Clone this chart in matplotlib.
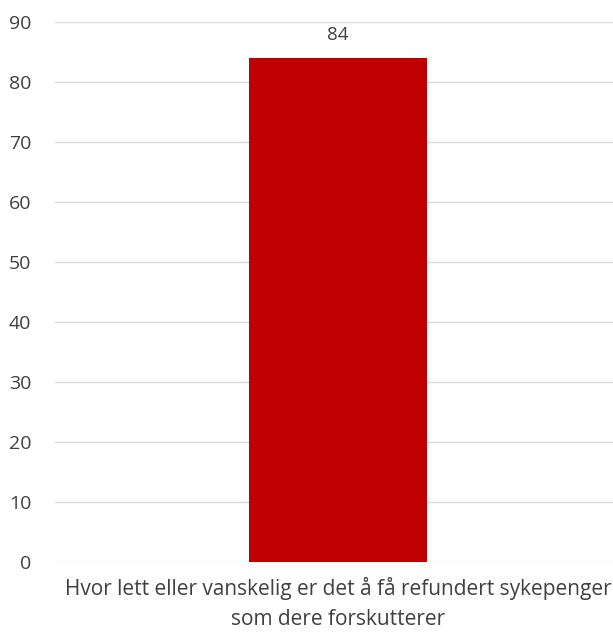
import matplotlib.pyplot as plt

categories = ["Hvor lett eller vanskelig er det å få refundert sykepenger\nsom dere forskutterer"]
values = [84]
yticks = [0, 10, 20, 30, 40, 50, 60, 70, 80, 90]

plt.rcParams['font.family'] = ['Open Sans', 'DejaVu Sans']

fig = plt.figure(figsize=(6.13, 6.34), dpi=100)
ax = fig.add_axes([0.0897, 0.1136, 0.9103, 0.8517])

xs = list(range(len(categories)))
bars = ax.bar(xs, values, width=0.32, color='#C00000', zorder=3)
for x, v in zip(xs, values):
    ax.text(x, v + 2.3, str(v), ha='center', va='bottom', fontsize=13.5, color='#404040')

ax.set_xlim(-0.507, 0.493)
ax.set_ylim(0, 90)
ax.set_yticks(yticks)
ax.set_xticks(xs)
ax.set_xticklabels(categories, fontsize=15, color='#404040', linespacing=1.55)
ax.tick_params(axis='y', length=0, pad=17, labelsize=14, labelcolor='#404040')
ax.tick_params(axis='x', length=0, pad=11)
ax.grid(axis='y', color='#D9D9D9', linewidth=1, zorder=0)
for s in ax.spines.values():
    s.set_visible(False)

fig.savefig('out.png', dpi=100)
